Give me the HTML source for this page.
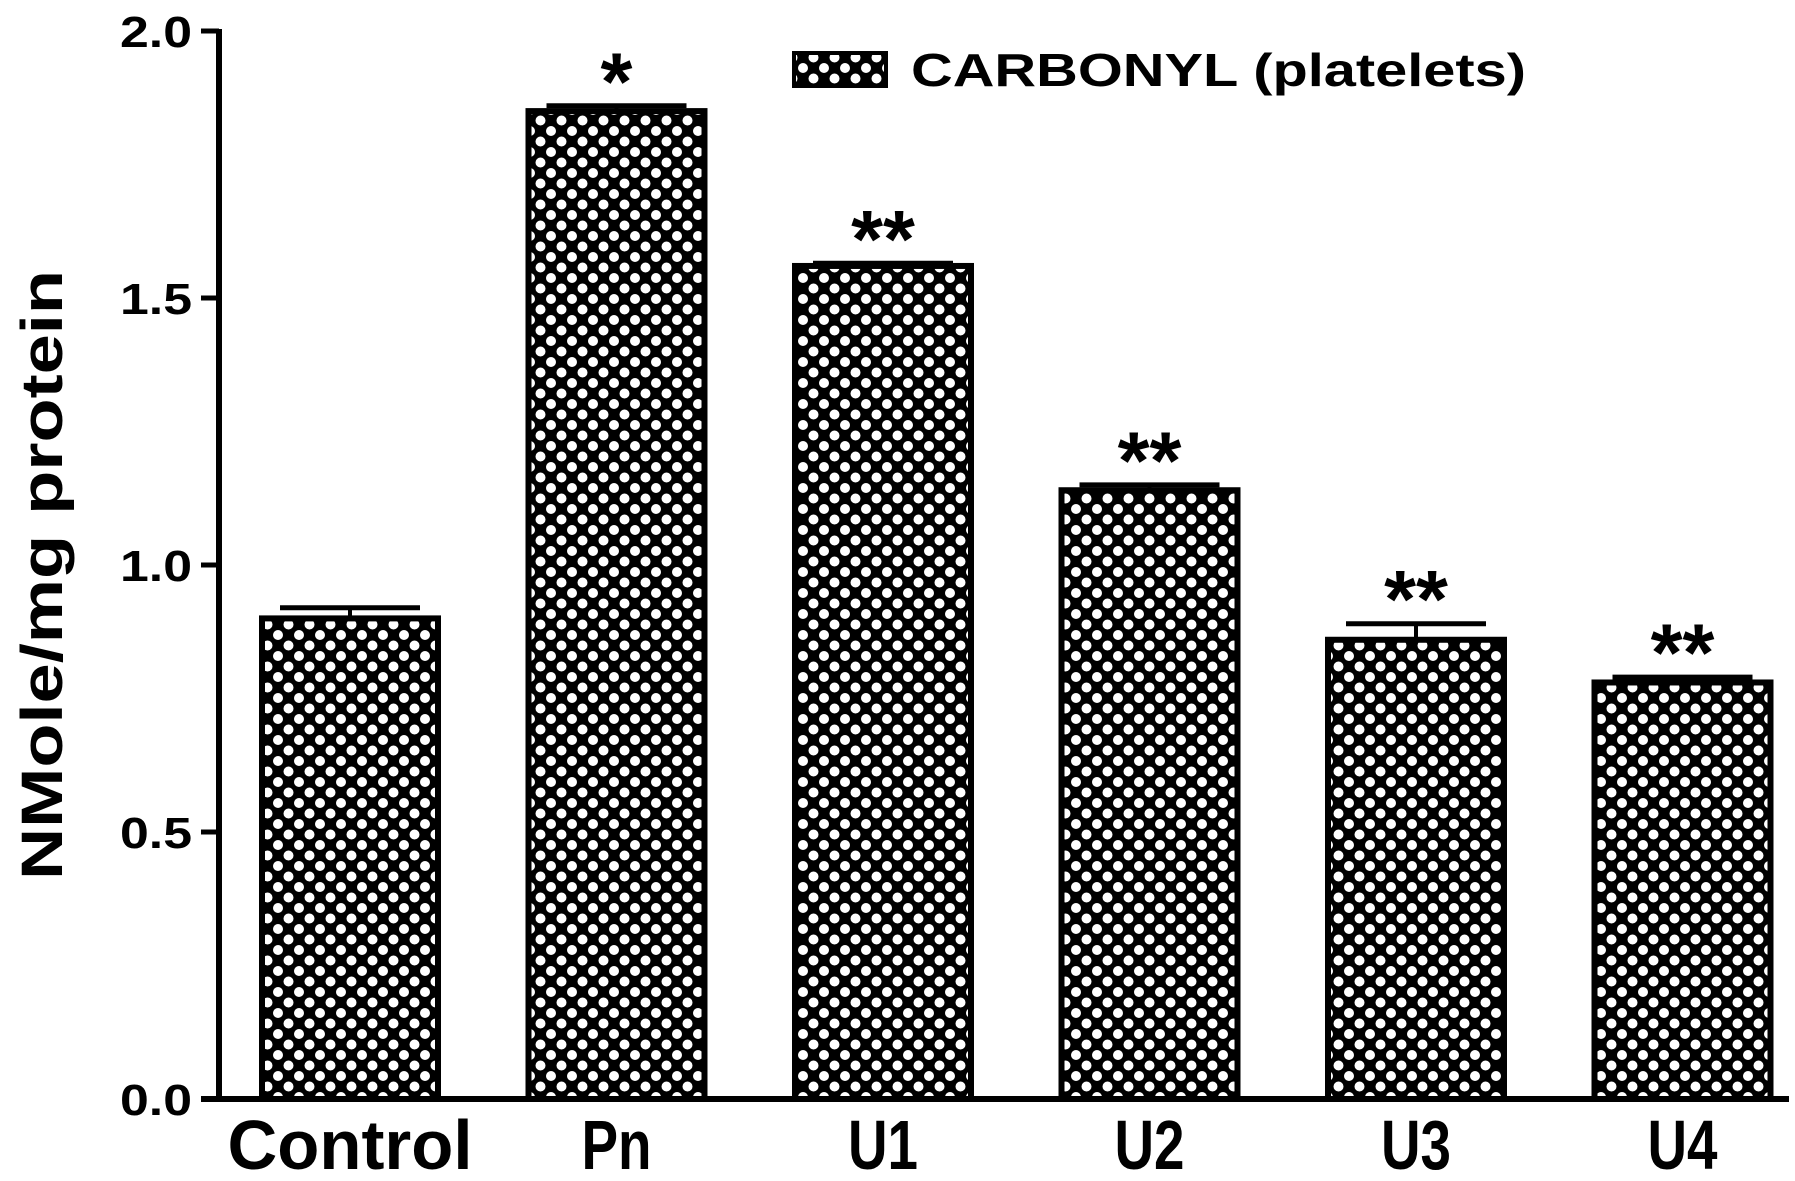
<!DOCTYPE html>
<html><head><meta charset="utf-8"><style>
html,body{margin:0;padding:0;background:#fff}
svg{display:block;font-family:"Liberation Sans",sans-serif;font-weight:bold}
</style></head><body>
<svg id="chart" width="1795" height="1181" viewBox="0 0 1795 1181" xmlns="http://www.w3.org/2000/svg">
<defs>
<pattern id="dots" patternUnits="userSpaceOnUse" width="21" height="21">
<rect width="21" height="21" fill="#000"/>
<circle cx="5" cy="5" r="5" fill="#fff"/>
<circle cx="15.5" cy="15.5" r="5" fill="#fff"/>
</pattern>
</defs>
<g id="axes"></g>
<g id="bars"></g>
<g id="labels"></g>
<rect x="794" y="53" width="92" height="33" fill="url(#dots)" stroke="#000" stroke-width="4"/>
<text x="911" y="86" font-size="46" textLength="615" lengthAdjust="spacingAndGlyphs">CARBONYL (platelets)</text>
<text transform="translate(62,575) rotate(-90)" text-anchor="middle" font-size="58" textLength="610" lengthAdjust="spacingAndGlyphs">NMole/mg protein</text>
</svg>
<script>
const categories = ["Control","Pn","U1","U2","U3","U4"];
const values = [0.90,1.85,1.56,1.14,0.86,0.78];
const errors = [0.02,0.01,0.005,0.01,0.03,0.01];
const marks = ["","*","**","**","**","**"];
const yTicks = [0.0,0.5,1.0,1.5,2.0];
const yTickLabels = ["0.0","0.5","1.0","1.5","2.0"];

const NS="http://www.w3.org/2000/svg";
const x0=219, xEnd=1789, y0=1099, yTop=31, yMax=2.0;
const band=266.5, firstCenter=350, barW=176;
function yScale(v){return y0-(v/yMax)*(y0-yTop);}
function xCenter(i){return firstCenter+i*band;}
function mk(tag,attrs,parent,text){const e=document.createElementNS(NS,tag);for(const k in attrs)e.setAttribute(k,attrs[k]);if(text!==undefined)e.textContent=text;parent.appendChild(e);return e;}
const axes=document.getElementById('axes'),bars=document.getElementById('bars'),labels=document.getElementById('labels');

categories.forEach((c,i)=>{
  const cx=xCenter(i), yv=yScale(values[i]), ye=yScale(values[i]+errors[i]);
  const eb=mk('line',{x1:cx,x2:cx,y1:yv,y2:ye,stroke:'#000','stroke-width':4},bars);
  
  
  const cap=mk('line',{x1:cx-70,x2:cx+70,y1:ye,y2:ye,stroke:'#000','stroke-width':5},bars);
  
  
  const r=mk('rect',{x:cx-barW/2,y:yv,width:barW,height:y0-yv,fill:'url(#dots)',stroke:'#000','stroke-width':6},bars);
  
  
  if(marks[i]){
    const s=mk('text',{x:cx,y:ye+4,'text-anchor':'middle','font-size':82},labels,marks[i]);
    
    
  }
  const t=mk('text',{x:cx,y:1169,'text-anchor':'middle','font-size':70},labels,c);
  t.setAttribute('textLength',c.length*35);
  t.setAttribute('lengthAdjust','spacingAndGlyphs');
  
  
});

const ya=mk('line',{x1:x0,x2:x0,y1:yTop-2,y2:y0+3,stroke:'#000','stroke-width':6},axes);


const xa=mk('line',{x1:x0-18,x2:xEnd,y1:y0,y2:y0,stroke:'#000','stroke-width':6},axes);


yTicks.forEach((v,i)=>{
  const y=yScale(v);
  const tk=mk('line',{x1:x0-18,x2:x0,y1:y,y2:y,stroke:'#000','stroke-width':5},axes);
  
  
  const tl=mk('text',{x:192,y:y+16,'text-anchor':'end','font-size':44,textLength:72,lengthAdjust:'spacingAndGlyphs'},axes,yTickLabels[i]);
  
  
});
</script>
</body></html>
